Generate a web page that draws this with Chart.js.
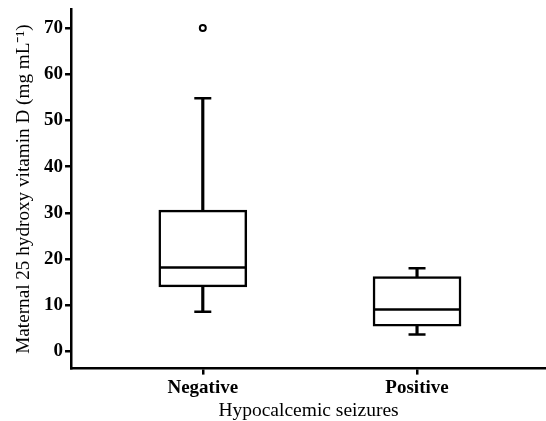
<!DOCTYPE html>
<html>
<head>
<meta charset="utf-8">
<script src="https://cdn.jsdelivr.net/npm/chart.js@4/dist/chart.umd.min.js"></script>
<style>
html, body { margin: 0; padding: 0; background: #fff; }
</style>
</head>
<body>
<canvas id="myChart" width="546" height="421"></canvas>
<script>
// groups and their box plot summaries
var groups = ['Negative', 'Positive'];
var lowWhisker = [8.6, 3.7];
var q1 = [14.0, 5.5];
var median = [18.2, 9.1];
var q3 = [30.6, 16.2];
var highWhisker = [54.8, 18.0];
var outliers = [[70], []];
var yTicks = [0, 10, 20, 30, 40, 50, 60, 70];

// build the point lists the library needs (x = group index)
var boxData = [], whiskerData = [], capData = [], medianData = [], outlierData = [];
groups.forEach(function (g, i) {
    boxData.push({x: i, y: [q1[i], q3[i]]});
    whiskerData.push({x: i, y: [q3[i], highWhisker[i]]});
    whiskerData.push({x: i, y: [lowWhisker[i], q1[i]]});
    capData.push({x: i, y: highWhisker[i]});
    capData.push({x: i, y: lowWhisker[i]});
    medianData.push({x: i, y: median[i]});
    outliers[i].forEach(function (v) { outlierData.push({x: i, y: v}); });
});

var serif = '"Liberation Serif", "Times New Roman", serif';
var lw = 2.5;

var ctx = document.getElementById('myChart').getContext('2d');
var myChart = new Chart(ctx, {
    type: 'bar',
    data: {
        datasets: [{
            type: 'scatter',
            data: outlierData,
            pointStyle: 'circle',
            pointRadius: 3,
            pointBorderWidth: 2,
            pointBorderColor: '#000',
            pointBackgroundColor: '#fff'
        }, {
            type: 'scatter',
            data: medianData,
            pointStyle: 'line',
            pointRadius: 43,
            pointBorderWidth: lw,
            pointBorderColor: '#000'
        }, {
            type: 'scatter',
            data: capData,
            pointStyle: 'line',
            pointRadius: 8.5,
            pointBorderWidth: lw,
            pointBorderColor: '#000'
        }, {
            data: boxData,
            grouped: false,
            barThickness: 88,
            backgroundColor: '#fff',
            borderColor: '#000',
            borderWidth: lw,
            borderSkipped: false
        }, {
            data: whiskerData,
            grouped: false,
            barThickness: lw,
            backgroundColor: '#000',
            borderWidth: 0
        }]
    },
    options: {
        responsive: false,
        animation: false,
        events: [],
        layout: {autoPadding: false, padding: {top: 8, right: 0, left: 0, bottom: 1}},
        plugins: {
            legend: {display: false},
            tooltip: {enabled: false}
        },
        scales: {
            x: {
                type: 'linear',
                offset: false,
                min: -0.615,
                max: 1.602,
                afterBuildTicks: function (scale) {
                    scale.ticks = groups.map(function (g, i) { return {value: i}; });
                },
                ticks: {
                    callback: function (v) { return groups[v]; },
                    color: '#000',
                    padding: 3,
                    maxRotation: 0,
                    font: {family: serif, size: 19, weight: 'bold', lineHeight: 1.15}
                },
                grid: {offset: false, drawOnChartArea: false, drawTicks: true, tickLength: 6, color: '#000', lineWidth: lw},
                border: {display: true, color: '#000', width: lw},
                title: {
                    display: true,
                    text: 'Hypocalcemic seizures',
                    color: '#000',
                    padding: {top: 0, bottom: 0},
                    font: {family: serif, size: 19.5, lineHeight: 0.9}
                }
            },
            y: {
                min: -3.7,
                max: 74,
                afterBuildTicks: function (scale) {
                    scale.ticks = yTicks.map(function (v) { return {value: v}; });
                },
                ticks: {
                    color: '#000',
                    padding: 2,
                    font: {family: serif, size: 19, weight: 'bold', lineHeight: 0.8}
                },
                grid: {drawOnChartArea: false, drawTicks: true, tickLength: 6, color: '#000', lineWidth: lw},
                border: {display: true, color: '#000', width: lw},
                title: {
                    display: true,
                    text: 'Maternal 25 hydroxy vitamin D (mg mL\u207B\u00B9)',
                    color: '#000',
                    padding: {top: 12, bottom: 7},
                    font: {family: serif, size: 19.2}
                }
            }
        }
    }
});
</script>
</body>
</html>
